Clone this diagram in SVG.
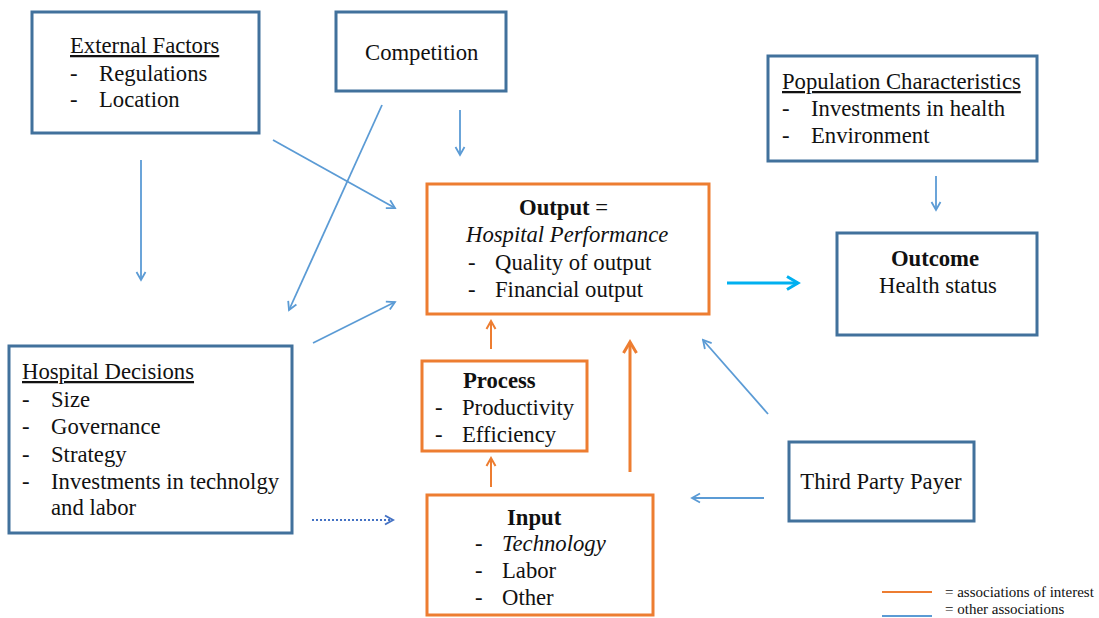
<svg xmlns="http://www.w3.org/2000/svg" width="1099" height="618" viewBox="0 0 1099 618">
  <style>
    text { font-family: "Liberation Serif", "Times New Roman", serif; font-size: 22.7px; fill: #111; }
    .b { font-weight: bold; }
    .i { font-style: italic; }
    .u { text-decoration: underline; }
    .mid { text-anchor: middle; }
    .legend { font-size: 15px; }
    .box-blue { fill: #fff; stroke: #41719C; stroke-width: 3; }
    .box-orange { fill: #fff; stroke: #ED7D31; stroke-width: 3; }
    .c-blue { fill: none; stroke: #5B9BD5; stroke-width: 1.8; }
    .c-blue-dot { fill: none; stroke: #4472C4; stroke-width: 2; stroke-dasharray: 2 2; }
    .c-orange { fill: none; stroke: #ED7D31; stroke-width: 2; }
    .c-orange-thick { fill: none; stroke: #ED7D31; stroke-width: 3; }
    .c-cyan { fill: none; stroke: #00B0F0; stroke-width: 3; }
  </style>
  <defs>
    <marker id="ah-blue" viewBox="0 0 12 12" refX="10" refY="6" markerWidth="12" markerHeight="12" markerUnits="userSpaceOnUse" orient="auto">
      <path d="M2,1.5 L10,6 L2,10.5" fill="none" stroke="#5B9BD5" stroke-width="1.8"/>
    </marker>
    <marker id="ah-blue-dot" viewBox="0 0 12 12" refX="10" refY="6" markerWidth="12" markerHeight="12" markerUnits="userSpaceOnUse" orient="auto">
      <path d="M2,1.5 L10,6 L2,10.5" fill="none" stroke="#4472C4" stroke-width="2"/>
    </marker>
    <marker id="ah-orange" viewBox="0 0 12 12" refX="10" refY="6" markerWidth="12" markerHeight="12" markerUnits="userSpaceOnUse" orient="auto">
      <path d="M2,1.5 L10,6 L2,10.5" fill="none" stroke="#ED7D31" stroke-width="2"/>
    </marker>
    <marker id="ah-orange-thick" viewBox="0 0 16 16" refX="13" refY="8" markerWidth="16" markerHeight="16" markerUnits="userSpaceOnUse" orient="auto">
      <path d="M2,1.5 L13,8 L2,14.5" fill="none" stroke="#ED7D31" stroke-width="3"/>
    </marker>
    <marker id="ah-cyan" viewBox="0 0 16 16" refX="13" refY="8" markerWidth="16" markerHeight="16" markerUnits="userSpaceOnUse" orient="auto">
      <path d="M2,1.5 L13,8 L2,14.5" fill="none" stroke="#00B0F0" stroke-width="3"/>
    </marker>
  </defs>

  <!-- connectors -->
  <g id="connectors">
    <line class="c-blue" x1="141" y1="160" x2="141" y2="280" marker-end="url(#ah-blue)"/>
    <line class="c-blue" x1="273" y1="140" x2="395" y2="208" marker-end="url(#ah-blue)"/>
    <line class="c-blue" x1="382" y1="105" x2="289" y2="310" marker-end="url(#ah-blue)"/>
    <line class="c-blue" x1="460" y1="110" x2="460" y2="155" marker-end="url(#ah-blue)"/>
    <line class="c-blue" x1="313" y1="343" x2="395" y2="302" marker-end="url(#ah-blue)"/>
    <line class="c-blue-dot" x1="312" y1="520" x2="393" y2="520" marker-end="url(#ah-blue-dot)"/>
    <line class="c-blue" x1="936" y1="176" x2="936" y2="210" marker-end="url(#ah-blue)"/>
    <line class="c-blue" x1="768" y1="414" x2="703" y2="340" marker-end="url(#ah-blue)"/>
    <line class="c-blue" x1="764" y1="498" x2="692" y2="498" marker-end="url(#ah-blue)"/>
    <line class="c-cyan" x1="727" y1="283" x2="798" y2="283" marker-end="url(#ah-cyan)"/>
    <line class="c-orange" x1="491" y1="349" x2="491" y2="321" marker-end="url(#ah-orange)"/>
    <line class="c-orange" x1="491" y1="487" x2="491" y2="458" marker-end="url(#ah-orange)"/>
    <line class="c-orange-thick" x1="630" y1="472" x2="630" y2="342" marker-end="url(#ah-orange-thick)"/>
  </g>

  <!-- nodes -->
  <g id="external-factors">
    <rect class="box-blue" x="32" y="12" width="227" height="121"/>
    <text class="u" x="70" y="53">External Factors</text>
    <text x="70" y="81">-</text><text x="99" y="81">Regulations</text>
    <text x="70" y="107">-</text><text x="99" y="107">Location</text>
  </g>

  <g id="competition">
    <rect class="box-blue" x="336" y="12" width="170" height="79"/>
    <text x="365" y="60">Competition</text>
  </g>

  <g id="population-characteristics">
    <rect class="box-blue" x="768" y="56" width="269" height="105"/>
    <text class="u" x="782" y="89">Population Characteristics</text>
    <text x="782" y="116">-</text><text x="811" y="116">Investments in health</text>
    <text x="782" y="143">-</text><text x="811" y="143">Environment</text>
  </g>

  <g id="output">
    <rect class="box-orange" x="427" y="184" width="282" height="130"/>
    <text x="519" y="215"><tspan class="b">Output</tspan> =</text>
    <text class="i" x="466" y="242">Hospital Performance</text>
    <text x="468" y="270">-</text><text x="495" y="270">Quality of output</text>
    <text x="468" y="297">-</text><text x="495" y="297">Financial output</text>
  </g>

  <g id="outcome">
    <rect class="box-blue" x="837" y="233" width="200" height="102"/>
    <text class="b mid" x="935" y="266">Outcome</text>
    <text class="mid" x="938" y="293">Health status</text>
  </g>

  <g id="hospital-decisions">
    <rect class="box-blue" x="9" y="346" width="283" height="187"/>
    <text class="u" x="22" y="379">Hospital Decisions</text>
    <text x="22" y="407">-</text><text x="51" y="407">Size</text>
    <text x="22" y="434">-</text><text x="51" y="434">Governance</text>
    <text x="22" y="462">-</text><text x="51" y="462">Strategy</text>
    <text x="22" y="489">-</text><text x="51" y="489">Investments in technolgy</text>
    <text x="51" y="515">and labor</text>
  </g>

  <g id="process">
    <rect class="box-orange" x="422" y="361" width="165" height="90"/>
    <text class="b" x="463" y="388">Process</text>
    <text x="435" y="415">-</text><text x="462" y="415">Productivity</text>
    <text x="435" y="442">-</text><text x="462" y="442">Efficiency</text>
  </g>

  <g id="input">
    <rect class="box-orange" x="427" y="495" width="226" height="120"/>
    <text class="b" x="507" y="525">Input</text>
    <text x="475" y="551">-</text><text class="i" x="502" y="551">Technology</text>
    <text x="475" y="578">-</text><text x="502" y="578">Labor</text>
    <text x="475" y="605">-</text><text x="502" y="605">Other</text>
  </g>

  <g id="third-party-payer">
    <rect class="box-blue" x="789" y="442" width="185" height="79"/>
    <text class="mid" x="881" y="489">Third Party Payer</text>
  </g>

  <!-- legend -->
  <g id="legend">
    <line x1="882" y1="592" x2="932" y2="592" stroke="#ED7D31" stroke-width="2"/>
    <line x1="882" y1="616" x2="932" y2="616" stroke="#5B9BD5" stroke-width="2"/>
    <text class="legend" x="945" y="597">= associations of interest</text>
    <text class="legend" x="945" y="614">= other associations</text>
  </g>
</svg>
